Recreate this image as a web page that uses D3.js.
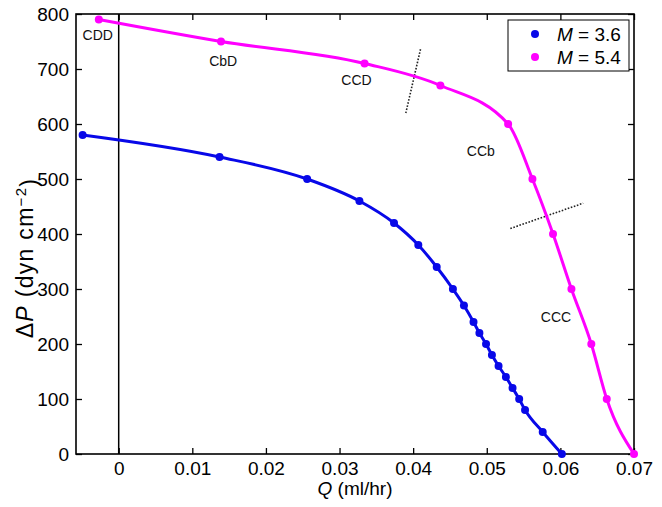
<!DOCTYPE html>
<html><head><meta charset="utf-8">
<script src="https://cdn.jsdelivr.net/npm/d3@7"></script>
<style>body{margin:0;background:#fff}text{font-family:"Liberation Sans",Arial,sans-serif}</style>
</head><body><svg id="c" width="662" height="507"></svg>
<script>
// ---- data ----
const blueQ = [-0.0049, 0.0137, 0.0256, 0.0327, 0.0374, 0.0407, 0.0432, 0.0454, 0.0469, 0.0482, 0.0490, 0.0499, 0.0507, 0.0516, 0.0526, 0.0535, 0.0544, 0.0552, 0.0576, 0.0602];
const blueP = [580, 540, 500, 460, 420, 380, 340, 300, 270, 240, 220, 200, 180, 160, 140, 120, 100, 80, 40, 0];
const magQ = [-0.0027, 0.0139, 0.0334, 0.0437, 0.0529, 0.0562, 0.0590, 0.0615, 0.0642, 0.0663, 0.0700];
const magP = [790, 750, 710, 670, 600, 500, 400, 300, 200, 100, 0];
const seriesNames = ["3.6", "5.4"];
const xTicks = [0, 0.01, 0.02, 0.03, 0.04, 0.05, 0.06, 0.07];
const yTicks = [0, 100, 200, 300, 400, 500, 600, 700, 800];
const regionText = ["CDD", "CbD", "CCD", "CCb", "CCC"];
const regionQ = [-0.00285, 0.0142, 0.0323, 0.0492, 0.0594];
const regionP = [753, 706, 671, 542, 240];
const divider1Q = [0.0410, 0.0390], divider1P = [736, 620];
const divider2Q = [0.0532, 0.0631], divider2P = [410, 456];

// ---- layout ----
const L = 76, R = 634, T = 14, B = 454;
const svg = d3.select("#c");
const x = d3.scaleLinear().domain([-0.0058, 0.07]).range([L, R]);
const y = d3.scaleLinear().domain([0, 800]).range([B, T]);
const fmtX = v => v === 0 ? "0" : d3.format(".2f")(v);
const colors = ["#0808e8", "#ff00ff"];

// axes (MATLAB style box, inward ticks)
const tickLen = 6;
const axB = svg.append("g").attr("transform", `translate(0,${B})`)
  .call(d3.axisBottom(x).tickValues(xTicks).tickFormat(fmtX).tickSizeInner(-tickLen).tickSizeOuter(0).tickPadding(8));
const axT = svg.append("g").attr("transform", `translate(0,${T})`)
  .call(d3.axisTop(x).tickValues(xTicks).tickFormat("").tickSizeInner(-tickLen).tickSizeOuter(0));
const axL = svg.append("g").attr("transform", `translate(${L},0)`)
  .call(d3.axisLeft(y).tickValues(yTicks).tickSizeInner(-tickLen).tickSizeOuter(0).tickPadding(7));
const axR = svg.append("g").attr("transform", `translate(${R},0)`)
  .call(d3.axisRight(y).tickValues(yTicks).tickFormat("").tickSizeInner(-tickLen).tickSizeOuter(0));
[axB, axT, axL, axR].forEach(a => {
  a.select(".domain").remove();
  a.selectAll(".tick line").attr("stroke", "#000").attr("stroke-width", 1.3);
  a.selectAll(".tick text").attr("fill", "#000").style("font-size", "19px");
});
axB.selectAll(".tick text").attr("dy", "0.71em");
svg.append("rect").attr("x", L).attr("y", T).attr("width", R - L).attr("height", B - T)
  .attr("fill", "none").attr("stroke", "#000").attr("stroke-width", 1.6);

// vertical line at Q = 0
svg.append("line").attr("x1", x(0)).attr("x2", x(0)).attr("y1", y(0)).attr("y2", y(800))
  .attr("stroke", "#000").attr("stroke-width", 1.5);

// divider dotted lines
[[divider1Q, divider1P], [divider2Q, divider2P]].forEach(([q, p]) => {
  svg.append("line").attr("x1", x(q[0])).attr("y1", y(p[0])).attr("x2", x(q[1])).attr("y2", y(p[1]))
    .attr("stroke", "#222").attr("stroke-width", 1.6).attr("stroke-dasharray", "1.6,1.6");
});

// curves
const series = [blueQ.map((q, i) => [q, blueP[i]]), magQ.map((q, i) => [q, magP[i]])];
const line = d3.line().x(d => x(d[0])).y(d => y(d[1])).curve(d3.curveMonotoneX);
series.forEach((s, k) => {
  svg.append("path").attr("d", line(s)).attr("fill", "none").attr("stroke", colors[k]).attr("stroke-width", 3);
  svg.append("g").selectAll("circle").data(s).join("circle")
    .attr("cx", d => x(d[0])).attr("cy", d => y(d[1])).attr("r", 4).attr("fill", colors[k]);
});

// region labels
svg.append("g").selectAll("text").data(regionText).join("text")
  .attr("x", (d, i) => x(regionQ[i])).attr("y", (d, i) => y(regionP[i]))
  .attr("text-anchor", "middle").style("font-size", "14px").attr("fill", "#111").text(d => d);

// legend
const lg = svg.append("g");
lg.append("rect").attr("x", 508).attr("y", 20).attr("width", 121).attr("height", 51)
  .attr("fill", "#fff").attr("stroke", "#000").attr("stroke-width", 1);
seriesNames.forEach((n, i) => {
  const yy = 34 + i * 23;
  lg.append("circle").attr("cx", 535).attr("cy", yy).attr("r", 4).attr("fill", colors[i]);
  const t = lg.append("text").attr("x", 557).attr("y", yy + 7).style("font-size", "19px").attr("fill", "#000");
  t.append("tspan").style("font-style", "italic").text("M");
  t.append("tspan").text(" = " + n);
});

// axis labels
const xl = svg.append("text").attr("x", (L + R) / 2).attr("y", 495).attr("text-anchor", "middle")
  .style("font-size", "19px").attr("fill", "#000");
xl.append("tspan").style("font-style", "italic").text("Q");
xl.append("tspan").text(" (ml/hr)");

const yl = svg.append("text").attr("transform", `translate(33,258) rotate(-90)`)
  .attr("text-anchor", "middle").style("font-size", "23px").style("letter-spacing", "1.3px").attr("fill", "#000");
yl.append("tspan").text("Δ");
yl.append("tspan").style("font-style", "italic").text("P");
yl.append("tspan").text(" (dyn cm");
yl.append("tspan").attr("dy", "-0.45em").style("font-size", "15px").text("−2");
yl.append("tspan").attr("dy", "0.45em").text(")");
</script></body></html>
